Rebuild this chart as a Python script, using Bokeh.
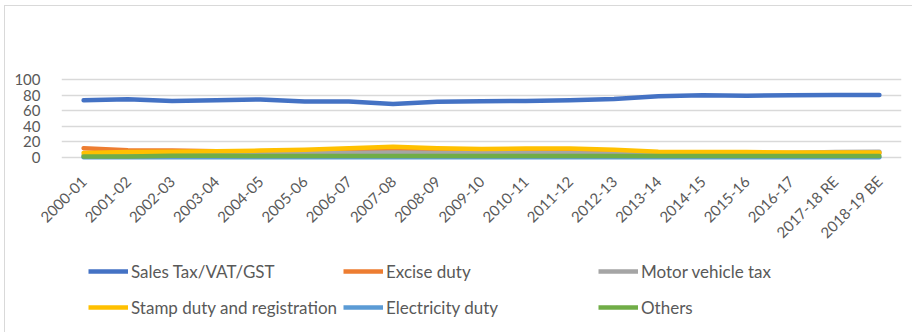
import math
from bokeh.plotting import figure
from bokeh.layouts import column
from bokeh.models import Legend, LegendItem, FactorRange, Range1d, FixedTicker
from bokeh.embed import file_html
from bokeh.resources import INLINE

years = ["2000-01", "2001-02", "2002-03", "2003-04", "2004-05", "2005-06", "2006-07",
         "2007-08", "2008-09", "2009-10", "2010-11", "2011-12", "2012-13", "2013-14",
         "2014-15", "2015-16", "2016-17", "2017-18 RE", "2018-19 BE"]

sales_tax = [73.4, 74.6, 72.5, 73.4, 74.3, 71.8, 71.8, 68.4, 71.3, 72.0, 72.5, 73.4, 75.0,
             78.4, 79.6, 79.2, 79.6, 80.0, 80.0]
excise = [12.0, 9.5, 9.0, 8.0, 8.0, 8.0, 9.0, 10.5, 9.0, 8.0, 8.0, 7.5, 7.0, 6.0, 6.0, 6.0,
          6.0, 6.0, 6.0]
motor_vehicle = [3.0, 3.0, 3.0, 3.5, 4.0, 5.5, 6.0, 6.5, 6.0, 6.0, 6.0, 5.5, 5.0, 5.0, 5.0,
                 5.5, 6.0, 7.0, 7.5]
stamp_duty = [6.0, 7.0, 7.5, 8.0, 9.0, 10.0, 12.0, 14.0, 12.0, 11.0, 11.5, 11.5, 10.0, 7.5,
              7.0, 7.0, 6.5, 6.5, 6.5]
electricity = [0.3, 0.3, 0.3, 0.3, 0.3, 0.3, 0.3, 0.3, 0.3, 0.3, 0.3, 0.3, 0.3, 0.3, 0.3,
               0.3, 0.3, 0.3, 0.3]
others = [1.5, 1.5, 2.5, 2.5, 2.0, 2.0, 2.0, 2.0, 2.0, 2.0, 2.0, 2.0, 2.0, 2.0, 2.0, 2.0,
          2.0, 2.0, 2.0]

series_names = ["Sales Tax/VAT/GST", "Excise duty", "Motor vehicle tax",
                "Stamp duty and registration", "Electricity duty", "Others"]
series_values = [sales_tax, excise, motor_vehicle, stamp_duty, electricity, others]
colors = ["#4472C4", "#ED7D31", "#A5A5A5", "#FFC000", "#5B9BD5", "#70AD47"]
y_ticks = [0, 20, 40, 60, 80, 100]

FONT = "Lato"
TXT = "#595959"

# ---- main chart ----
p = figure(width=907, height=244, x_range=FactorRange(*years, range_padding=0),
           y_range=Range1d(-5, 105), output_backend="svg", toolbar_location=None,
           min_border_left=56, min_border_right=11, min_border_top=69,
           min_border_bottom=87)
p.outline_line_color = None
p.background_fill_color = "white"
p.border_fill_color = "white"

p.xgrid.grid_line_color = None
p.ygrid.grid_line_color = "#D9D9D9"
p.ygrid.grid_line_width = 1.3

p.yaxis.ticker = FixedTicker(ticks=y_ticks)
p.yaxis.axis_line_color = None
p.yaxis.major_tick_line_color = None
p.yaxis.minor_tick_line_color = None
p.yaxis.major_label_text_font = FONT
p.yaxis.major_label_text_font_size = "15px"
p.yaxis.major_label_text_color = TXT
p.yaxis.major_label_standoff = 15

p.xaxis.axis_line_color = None
p.xaxis.major_tick_line_color = None
p.xaxis.minor_tick_line_color = None
p.xaxis.major_label_orientation = math.pi / 4
p.xaxis.major_label_text_font = FONT
p.xaxis.major_label_text_font_size = "15px"
p.xaxis.major_label_text_color = TXT
p.xaxis.major_label_standoff = 11

for vals, col in zip(series_values, colors):
    p.line(years, vals, line_color=col, line_width=4.5, line_join="round", line_cap="round")

# ---- legend panel (same series, drawn out of view; only the legend shows) ----
q = figure(width=907, height=83, x_range=FactorRange(*years, range_padding=0),
           y_range=Range1d(1000, 1001), output_backend="svg", toolbar_location=None,
           min_border=0)
q.axis.visible = False
q.grid.visible = False
q.outline_line_color = None
q.border_fill_color = "white"

legend_renderers = []
for vals, col in zip(series_values, colors):
    legend_renderers.append(q.line(years, vals, line_color=col, line_width=4.5))

# column-major fill: col1 = items 0,1 ; col2 = 2,3 ; col3 = 4,5
legend_order = [0, 3, 1, 4, 2, 5]
items = [LegendItem(label=series_names[i], renderers=[legend_renderers[i]])
         for i in legend_order]

legend = Legend(items=items, ncols=3, location=(27, 8),
                glyph_width=40, glyph_height=36, label_standoff=3,
                label_width=212, label_height=36, spacing=0, padding=0, margin=0,
                label_text_font=FONT, label_text_font_size="17px",
                label_text_color=TXT, border_line_color=None,
                background_fill_alpha=0)
q.add_layout(legend, "center")

layout = column(p, q, spacing=0,
                styles={"margin-left": "4px", "margin-top": "5px",
                        "border-left": "1.5px solid #D9D9D9",
                        "border-top": "1.5px solid #D9D9D9"})

open("out.html", "w").write(file_html(layout, INLINE))
